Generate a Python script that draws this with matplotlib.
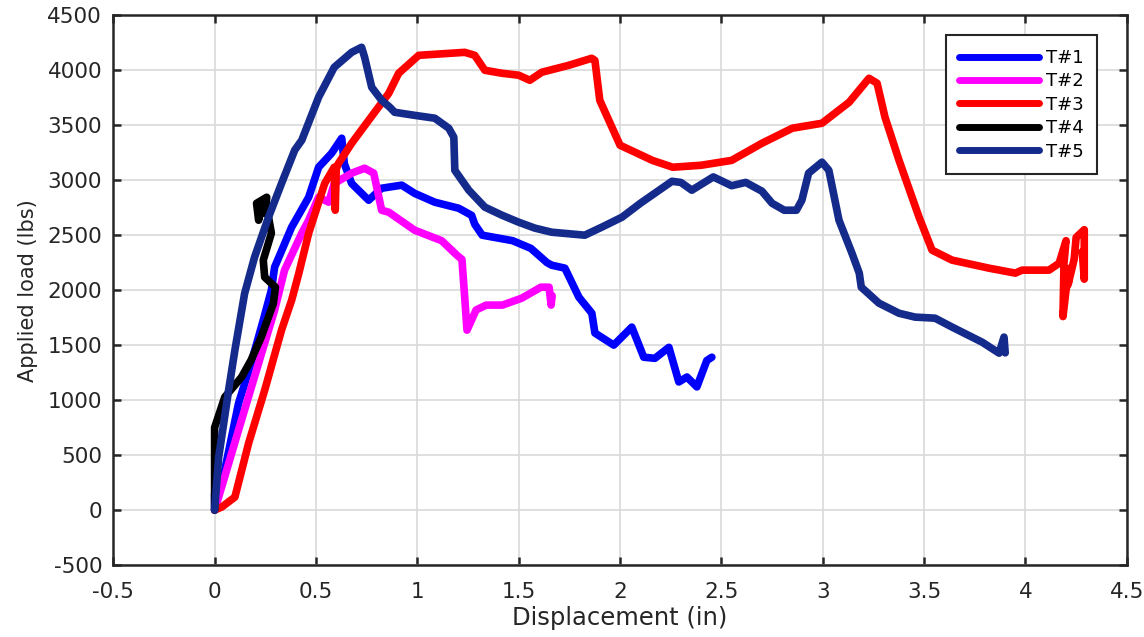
import numpy as np
import matplotlib
matplotlib.use("Agg")
import matplotlib.pyplot as plt

plt.rcParams["font.family"] = ["DejaVu Sans"]

# curvas carga x deslocamento
t1_x = [0.0, 0.0, 0.05, 0.118, 0.18, 0.24, 0.28, 0.296, 0.38, 0.464, 0.513, 0.577, 0.627,
        0.64, 0.676, 0.76, 0.824, 0.923, 0.987, 1.086, 1.204, 1.268, 1.283, 1.32, 1.47,
        1.56, 1.64, 1.663, 1.728, 1.797, 1.861, 1.876, 1.969, 2.058, 2.117, 2.172, 2.241,
        2.29, 2.33, 2.379, 2.428, 2.453]
t1_y = [0, 150, 364, 970, 1336, 1727, 2000, 2209, 2573, 2845, 3118, 3245, 3382,
        3150, 2970, 2818, 2927, 2955, 2880, 2800, 2745, 2680, 2600, 2500, 2450,
        2380, 2250, 2227, 2200, 1936, 1790, 1610, 1500, 1664, 1390, 1380, 1480,
        1165, 1210, 1120, 1360, 1390]

t2_x = [0.0, 0.02, 0.118, 0.217, 0.296, 0.345, 0.43, 0.464, 0.513, 0.563, 0.59, 0.676,
        0.74, 0.785, 0.824, 0.859, 0.987, 1.12, 1.195, 1.22, 1.235, 1.245, 1.29, 1.34,
        1.42, 1.515, 1.61, 1.65, 1.66, 1.665]
t2_y = [0, 118, 727, 1336, 1818, 2182, 2518, 2636, 2845, 2800, 2970, 3064,
        3109, 3064, 2727, 2709, 2545, 2450, 2318, 2280, 1900, 1636, 1820, 1864,
        1864, 1927, 2027, 2027, 1864, 1950]

t3_x = [0.0, 0.035, 0.1, 0.168, 0.247, 0.33, 0.38, 0.415, 0.464, 0.543, 0.59, 0.595,
        0.60, 0.61, 0.676, 0.76, 0.859, 0.908, 1.007, 1.234, 1.283, 1.333, 1.417, 1.5,
        1.555, 1.614, 1.747, 1.86, 1.876, 1.9, 2.0, 2.16, 2.26, 2.40, 2.55, 2.70, 2.85,
        2.996, 3.13, 3.228, 3.268, 3.307, 3.376, 3.475, 3.539, 3.638, 3.82, 3.95, 3.983,
        4.116, 4.166, 4.20, 4.19, 4.185, 4.20, 4.22, 4.21, 4.24, 4.25, 4.29, 4.29, 4.28]
t3_y = [0, 27, 118, 610, 1090, 1636, 1909, 2150, 2518, 2970, 3118, 2727,
        3100, 3150, 3336, 3545, 3790, 3973, 4136, 4163, 4136, 4000, 3973, 3955,
        3909, 3982, 4045, 4109, 4090, 3727, 3318, 3180, 3118, 3136, 3180, 3336, 3473,
        3518, 3709, 3927, 3882, 3573, 3182, 2664, 2364, 2273, 2200, 2155, 2182,
        2182, 2245, 2450, 2250, 1760, 2000, 2200, 2050, 2280, 2480, 2550, 2100, 2350]

t4_x = [0.0, 0.0, 0.05, 0.133, 0.18, 0.23, 0.29, 0.30, 0.247, 0.24, 0.28, 0.266,
        0.242, 0.217, 0.207, 0.257, 0.25]
t4_y = [0, 750, 1027, 1209, 1364, 1573, 1880, 2027, 2118, 2273, 2518, 2664,
        2818, 2636, 2790, 2845, 2700]

t5_x = [0.0, 0.02, 0.069, 0.1, 0.148, 0.197, 0.266, 0.33, 0.395, 0.43, 0.513, 0.59,
        0.676, 0.725, 0.74, 0.775, 0.824, 0.864, 0.888, 0.987, 1.086, 1.155, 1.18, 1.185,
        1.254, 1.333, 1.417, 1.5, 1.58, 1.663, 1.826, 1.91, 2.01, 2.1, 2.256, 2.30, 2.354,
        2.46, 2.55, 2.62, 2.70, 2.75, 2.81, 2.87, 2.897, 2.93, 2.996, 3.03, 3.08, 3.144,
        3.18, 3.19, 3.277, 3.376, 3.455, 3.554, 3.638, 3.786, 3.87, 3.894, 3.90]
t5_y = [0, 480, 1090, 1454, 1970, 2300, 2664, 2970, 3273, 3364, 3755, 4027,
        4163, 4209, 4118, 3845, 3727, 3664, 3618, 3590, 3564, 3473, 3391, 3090,
        2909, 2755, 2682, 2618, 2564, 2527, 2500, 2573, 2664, 2790, 2990, 2980, 2909,
        3030, 2950, 2980, 2900, 2790, 2727, 2727, 2818, 3064, 3164, 3090, 2636, 2336,
        2155, 2027, 1882, 1790, 1755, 1745, 1664, 1527, 1427, 1573, 1430]

x_ticks = [-0.5, 0, 0.5, 1, 1.5, 2, 2.5, 3, 3.5, 4, 4.5]
x_labels = ["-0.5", "0", "0.5", "1", "1.5", "2", "2.5", "3", "3.5", "4", "4.5"]
y_ticks = [-500, 0, 500, 1000, 1500, 2000, 2500, 3000, 3500, 4000, 4500]
y_labels = ["-500", "0", "500", "1000", "1500", "2000", "2500", "3000", "3500", "4000", "4500"]

series = [
    (t1_x, t1_y, "#0000FF", "T#1"),
    (t2_x, t2_y, "#FF00FF", "T#2"),
    (t3_x, t3_y, "#FF0000", "T#3"),
    (t4_x, t4_y, "#000000", "T#4"),
    (t5_x, t5_y, "#142B8C", "T#5"),
]

fig, ax = plt.subplots(figsize=(11.44, 6.37), dpi=100)
fig.subplots_adjust(left=0.099, right=0.985, bottom=0.113, top=0.976)

for xs, ys, cor, nome in series:
    ax.plot(xs, ys, color=cor, lw=5.5, label=nome, solid_joinstyle="round",
            solid_capstyle="round")

ax.set_xlim(-0.5, 4.5)
ax.set_ylim(-500, 4500)
ax.set_xticks(x_ticks)
ax.set_xticklabels(x_labels)
ax.set_yticks(y_ticks)
ax.set_yticklabels(y_labels)
ax.tick_params(direction="in", top=True, right=True, labelsize=15.5, length=6, width=1.8,
               colors="#262626")
ax.tick_params(axis="x", pad=12)
ax.tick_params(axis="y", pad=8)
for s in ax.spines.values():
    s.set_linewidth(1.8)
    s.set_color("#262626")

ax.grid(color="#d9d9d9", lw=1.2)
ax.set_axisbelow(True)
ax.set_xlabel("Displacement (in)", fontsize=17.5, color="#262626", labelpad=3)
ax.set_ylabel("Applied load (lbs)", fontsize=15, color="#262626", labelpad=7)

leg = ax.legend(loc="upper right", bbox_to_anchor=(0.971, 0.9636), borderaxespad=0,
                fontsize=13, fancybox=False, framealpha=1, edgecolor="#262626",
                handlelength=4.4, borderpad=0.75, labelspacing=0.3, handletextpad=0.4)
leg.get_frame().set_linewidth(1.5)
for l in leg.get_lines():
    l.set_linewidth(5)

fig.savefig("out.png")
